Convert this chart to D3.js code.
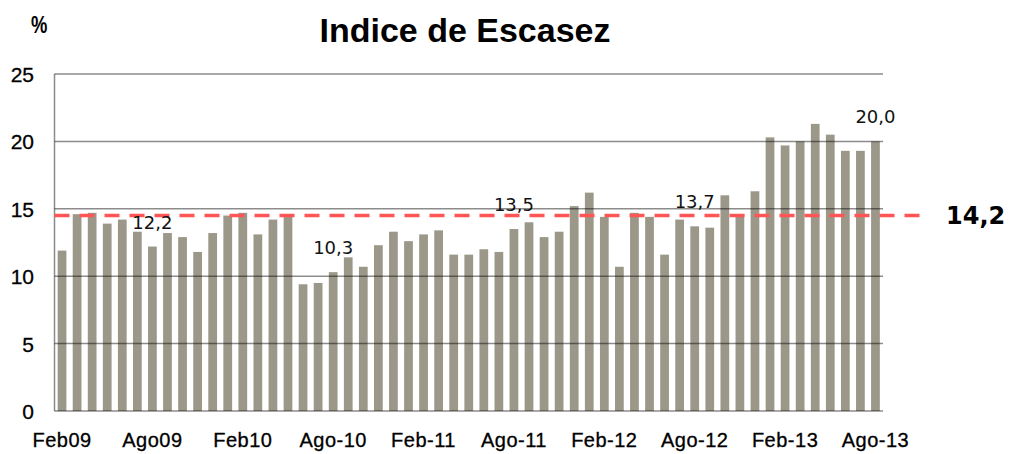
<!DOCTYPE html>
<html lang="es">
<head>
<meta charset="UTF-8" />
<title>Indice de Escasez</title>
<style>
    body { margin: 0; background: #fff; }
    #chart { width: 1009px; height: 454px; }
</style>
</head>
<body>
<div id="chart"></div>
<script src="https://cdn.jsdelivr.net/npm/d3@7"></script>
<script>
// meses, Feb09 .. Ago13
const categories = [
    'Feb09', 'Mar09', 'Abr09', 'May09', 'Jun09', 'Jul09', 'Ago09', 'Sep09', 'Oct09', 'Nov09', 'Dic09',
    'Ene10', 'Feb10', 'Mar10', 'Abr10', 'May10', 'Jun10', 'Jul10', 'Ago10', 'Sep10', 'Oct10', 'Nov10', 'Dic10',
    'Ene11', 'Feb11', 'Mar11', 'Abr11', 'May11', 'Jun11', 'Jul11', 'Ago11', 'Sep11', 'Oct11', 'Nov11', 'Dic11',
    'Ene12', 'Feb12', 'Mar12', 'Abr12', 'May12', 'Jun12', 'Jul12', 'Ago12', 'Sep12', 'Oct12', 'Nov12', 'Dic12',
    'Ene13', 'Feb13', 'Mar13', 'Abr13', 'May13', 'Jun13', 'Jul13', 'Ago13'
];
const values = [
    11.9, 14.6, 14.7, 13.9, 14.2, 13.3, 12.2, 13.2, 12.9, 11.8, 13.2,
    14.5, 14.7, 13.1, 14.2, 14.5, 9.4, 9.5, 10.3, 11.4, 10.7, 12.3, 13.3,
    12.6, 13.1, 13.4, 11.6, 11.6, 12.0, 11.8, 13.5, 14.0, 12.9, 13.3, 15.2,
    16.2, 14.4, 10.7, 14.7, 14.4, 11.6, 14.2, 13.7, 13.6, 16.0, 14.6, 16.3,
    20.3, 19.7, 20.0, 21.3, 20.5, 19.3, 19.3, 20.0
];
// etiquetas del eje x (cada 6 meses)
const tickCats = ['Feb09', 'Ago09', 'Feb10', 'Ago10', 'Feb11', 'Ago11', 'Feb12', 'Ago12', 'Feb13', 'Ago13'];
const tickLabels = ['Feb09', 'Ago09', 'Feb10', 'Ago-10', 'Feb-11', 'Ago-11', 'Feb-12', 'Ago-12', 'Feb-13', 'Ago-13'];
const yTicks = [0, 5, 10, 15, 20, 25];
// valores rotulados
const labelCats = ['Ago09', 'Ago10', 'Ago11', 'Ago12', 'Ago13'];
const labelTexts = ['12,2', '10,3', '13,5', '13,7', '20,0'];
// linea promedio
const refValue = 14.5;
const refText = '14,2';

const width = 1009, height = 454;
const margin = { left: 54.5, right: 126, top: 74, bottom: 43 };

const svg = d3.select('#chart').append('svg')
    .attr('width', width)
    .attr('height', height);

const x = d3.scaleBand()
    .domain(categories)
    .range([margin.left, width - margin.right])
    .paddingInner(0.42)
    .paddingOuter(0.21);

const y = d3.scaleLinear()
    .domain([0, 25])
    .range([height - margin.bottom, margin.top]);

const data = categories.map((c, i) => ({ cat: c, value: values[i] }));

// barras
svg.append('g')
    .selectAll('rect')
    .data(data)
    .join('rect')
    .attr('x', d => x(d.cat))
    .attr('y', d => y(d.value))
    .attr('width', x.bandwidth())
    .attr('height', d => y(0) - y(d.value))
    .attr('fill', '#9b9789');

// grilla (encima de las barras)
svg.append('g')
    .selectAll('line')
    .data(yTicks)
    .join('line')
    .attr('x1', margin.left)
    .attr('x2', width - margin.right)
    .attr('y1', d => y(d))
    .attr('y2', d => y(d))
    .attr('stroke', 'rgba(0,0,0,0.45)')
    .attr('stroke-width', 1.5);

svg.append('line')
    .attr('x1', margin.left)
    .attr('x2', margin.left)
    .attr('y1', y(25))
    .attr('y2', y(0))
    .attr('stroke', 'rgba(0,0,0,0.45)')
    .attr('stroke-width', 1.5);

// etiquetas eje y
svg.append('g')
    .selectAll('text')
    .data(yTicks)
    .join('text')
    .attr('x', 34)
    .attr('y', d => y(d) + 8)
    .attr('text-anchor', 'end')
    .attr('font-family', 'Liberation Sans, Arial, sans-serif')
    .attr('font-size', 21)
    .attr('fill', '#000')
    .attr('stroke', '#000')
    .attr('stroke-width', 0.3)
    .text(d => d);

// etiquetas eje x
svg.append('g')
    .selectAll('text')
    .data(tickCats)
    .join('text')
    .attr('x', d => x(d) + x.bandwidth() / 2)
    .attr('y', 447)
    .attr('text-anchor', 'middle')
    .attr('font-family', 'Liberation Sans, Arial, sans-serif')
    .attr('font-size', 20)
    .attr('letter-spacing', 0.5)
    .attr('fill', '#000')
    .attr('stroke', '#000')
    .attr('stroke-width', 0.3)
    .text((d, i) => tickLabels[i]);

// linea de referencia
svg.append('line')
    .attr('x1', margin.left)
    .attr('x2', 925)
    .attr('y1', y(refValue))
    .attr('y2', y(refValue))
    .attr('stroke', '#ff5555')
    .attr('stroke-width', 3.5)
    .attr('stroke-dasharray', '15,10');

svg.append('text')
    .attr('x', 946)
    .attr('y', y(refValue) + 8)
    .attr('font-family', 'DejaVu Sans, Verdana, sans-serif')
    .attr('font-weight', 'bold')
    .attr('font-size', 24)
    .attr('fill', '#000')
    .text(refText);

// rotulos de valores
const valueOf = c => values[categories.indexOf(c)];
svg.append('g')
    .selectAll('text')
    .data(labelCats)
    .join('text')
    .attr('x', d => x(d) + x.bandwidth() / 2)
    .attr('y', d => y(valueOf(d)) - 18)
    .attr('text-anchor', 'middle')
    .attr('font-family', 'DejaVu Sans, Verdana, sans-serif')
    .attr('font-size', 18)
    .attr('fill', '#111')
    .text((d, i) => labelTexts[i]);

// titulo
svg.append('text')
    .attr('x', 465)
    .attr('y', 42)
    .attr('text-anchor', 'middle')
    .attr('font-family', 'Liberation Sans, Arial, sans-serif')
    .attr('font-weight', 'bold')
    .attr('font-size', 34)
    .attr('fill', '#000')
    .text('Indice de Escasez');

svg.append('text')
    .attr('transform', 'translate(31,33) scale(0.8,1)')
    .attr('font-family', 'Liberation Sans, Arial, sans-serif')
    .attr('font-weight', 'bold')
    .attr('font-size', 23)
    .attr('fill', '#000')
    .text('%');
</script>
</body>
</html>
